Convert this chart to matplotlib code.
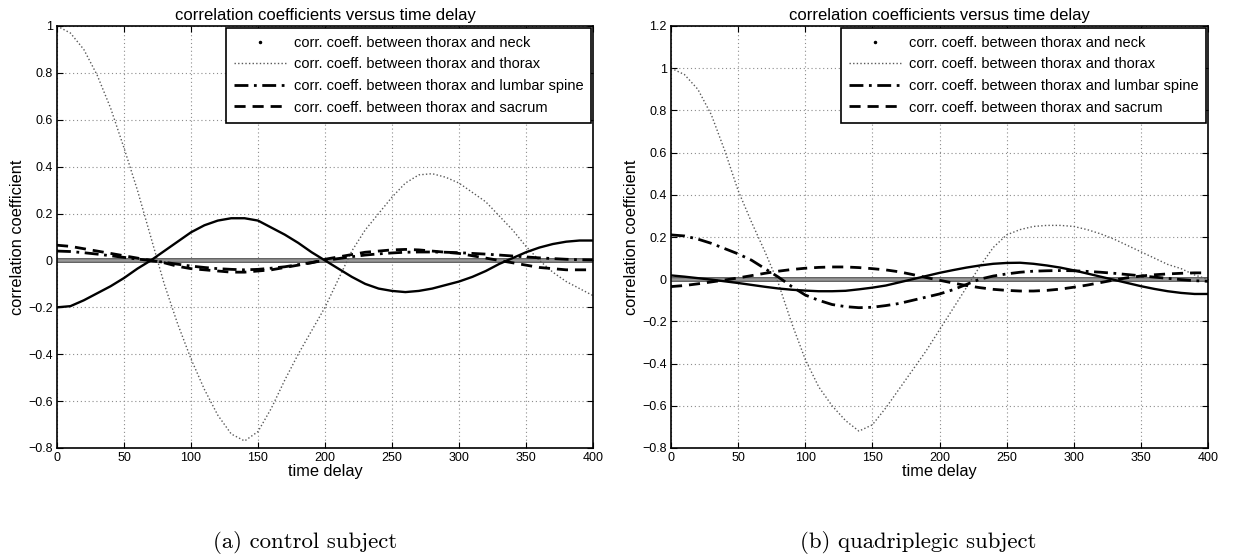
import matplotlib.pyplot as plt
import matplotlib.patheffects as pe
from matplotlib.lines import Line2D

# time delay samples (every 10 units)
delay = [0, 10, 20, 30, 40, 50, 60, 70, 80, 90, 100, 110, 120, 130, 140, 150,
         160, 170, 180, 190, 200, 210, 220, 230, 240, 250, 260, 270, 280, 290,
         300, 310, 320, 330, 340, 350, 360, 370, 380, 390, 400]

# (a) control subject
neck_delay = [0, 50, 100, 150, 200, 250, 300, 350, 400]
neck_a = [0.0, 0.0, 0.0, 0.0, 0.0, 0.0, 0.0, 0.0, 0.0]
thorax_a = [1.00, 0.97, 0.90, 0.79, 0.65, 0.48, 0.30, 0.10, -0.10, -0.27,
            -0.42, -0.55, -0.66, -0.74, -0.77, -0.73, -0.63, -0.51, -0.40, -0.30,
            -0.20, -0.08, 0.04, 0.13, 0.20, 0.27, 0.33, 0.365, 0.37, 0.355,
            0.33, 0.29, 0.25, 0.19, 0.13, 0.06, 0.0, -0.05, -0.09, -0.12, -0.15]
lumbar_a = [0.04, 0.038, 0.033, 0.027, 0.02, 0.013, 0.006, 0.0, -0.008, -0.016,
            -0.024, -0.03, -0.035, -0.038, -0.04, -0.038, -0.033, -0.027, -0.018, -0.009,
            0.0, 0.008, 0.016, 0.023, 0.028, 0.032, 0.035, 0.036, 0.036, 0.035,
            0.033, 0.03, 0.027, 0.023, 0.019, 0.015, 0.011, 0.008, 0.005, 0.003, 0.002]
sacrum_a = [0.065, 0.06, 0.05, 0.04, 0.03, 0.02, 0.01, 0.0, -0.01, -0.025,
            -0.035, -0.04, -0.045, -0.05, -0.05, -0.045, -0.04, -0.03, -0.02, -0.01,
            0.005, 0.015, 0.025, 0.035, 0.04, 0.045, 0.047, 0.045, 0.04, 0.035,
            0.03, 0.02, 0.01, 0.0, -0.01, -0.02, -0.03, -0.035, -0.04, -0.04, -0.04]
solid_a = [-0.20, -0.195, -0.17, -0.14, -0.11, -0.075, -0.035, 0.0, 0.04, 0.08,
           0.12, 0.15, 0.17, 0.18, 0.18, 0.17, 0.14, 0.11, 0.075, 0.035,
           0.0, -0.035, -0.07, -0.10, -0.12, -0.13, -0.135, -0.13, -0.12, -0.105,
           -0.09, -0.07, -0.045, -0.015, 0.01, 0.035, 0.055, 0.07, 0.08, 0.085, 0.085]

# (b) quadriplegic subject
neck_b = [0.0, 0.0, 0.0, 0.0, 0.0, 0.0, 0.0, 0.0, 0.0]
thorax_b = [1.00, 0.97, 0.90, 0.78, 0.61, 0.42, 0.27, 0.13, -0.02, -0.21,
            -0.38, -0.51, -0.60, -0.67, -0.72, -0.69, -0.61, -0.52, -0.43, -0.34,
            -0.24, -0.14, -0.04, 0.06, 0.15, 0.21, 0.235, 0.25, 0.255, 0.255,
            0.25, 0.235, 0.215, 0.19, 0.16, 0.13, 0.10, 0.07, 0.05, 0.02, 0.00]
lumbar_b = [0.21, 0.205, 0.19, 0.17, 0.145, 0.12, 0.09, 0.05, 0.01, -0.035,
            -0.075, -0.10, -0.12, -0.13, -0.135, -0.133, -0.125, -0.115, -0.10, -0.085,
            -0.07, -0.05, -0.025, 0.0, 0.015, 0.025, 0.033, 0.038, 0.04, 0.041,
            0.04, 0.037, 0.033, 0.028, 0.022, 0.016, 0.01, 0.004, -0.002, -0.007, -0.01]
sacrum_b = [-0.035, -0.03, -0.022, -0.013, -0.004, 0.006, 0.017, 0.028, 0.038, 0.046,
            0.052, 0.056, 0.058, 0.058, 0.055, 0.05, 0.044, 0.035, 0.022, 0.008,
            -0.005, -0.018, -0.03, -0.04, -0.048, -0.053, -0.056, -0.056, -0.053, -0.047,
            -0.038, -0.028, -0.016, -0.004, 0.007, 0.015, 0.021, 0.025, 0.028, 0.03, 0.03]
solid_b = [0.018, 0.012, 0.005, -0.002, -0.01, -0.018, -0.027, -0.036, -0.044, -0.05,
           -0.054, -0.057, -0.057, -0.055, -0.048, -0.04, -0.03, -0.015, 0.0, 0.015,
           0.03, 0.043, 0.055, 0.065, 0.073, 0.077, 0.078, 0.073, 0.065, 0.055,
           0.042, 0.027, 0.012, -0.003, -0.018, -0.033, -0.046, -0.057, -0.065, -0.07, -0.07]

legend_labels = ["corr. coeff. between thorax and neck",
                 "corr. coeff. between thorax and thorax",
                 "corr. coeff. between thorax and lumbar spine",
                 "corr. coeff. between thorax and sacrum"]

plt.rcParams['font.family'] = ['Liberation Sans', 'DejaVu Sans']

W, H = 1235, 556
fig = plt.figure(figsize=(W / 100, H / 100), dpi=100)

DOT = (0, (1, 1.6))
DASHDOT = (0, (5, 2, 1, 2))
DASH = (0, (4, 2.5))


def draw_panel(rect, neck, thorax, lumbar, sacrum, solid, ylim, yticks, caption, cap_x):
    ax = fig.add_axes([rect[0] / W, 1 - rect[3] / H, (rect[2] - rect[0]) / W, (rect[3] - rect[1]) / H])
    ax.plot(neck_delay, neck, color='0.6', lw=1.8,
            path_effects=[pe.Stroke(linewidth=3.4, foreground='0.3'), pe.Normal()])
    ax.plot(delay, thorax, color='0.35', lw=1.0, linestyle=DOT)
    ax.plot(delay, lumbar, color='black', lw=2, linestyle=DASHDOT)
    ax.plot(delay, sacrum, color='black', lw=2, linestyle=DASH)
    ax.plot(delay, solid, color='black', lw=1.7)

    ax.set_xlim(0, 400)
    ax.set_ylim(*ylim)
    ax.set_xticks(range(0, 401, 50))
    ax.set_yticks(yticks)
    ax.set_yticklabels([f"{t:g}" if t >= 0 else "\u2212" + f"{-t:g}" for t in yticks])
    ax.grid(True, color='0.55', linestyle=(0, (1, 2.5)), lw=0.8)
    ax.tick_params(direction='in', top=True, right=True, labelsize=9, length=4, pad=3)
    for s in ax.spines.values():
        s.set_linewidth(1.2)
    ax.set_title("correlation coefficients versus time delay", fontsize=12, pad=4)
    ax.set_xlabel("time delay", fontsize=11.8, labelpad=0)
    ax.set_ylabel("correlation coefficient", fontsize=11.8, labelpad=2)

    handles = [
        Line2D([], [], color='black', marker='.', markersize=3, linestyle='none'),
        Line2D([], [], color='0.35', lw=1.0, linestyle=DOT),
        Line2D([], [], color='black', lw=2, linestyle=DASHDOT),
        Line2D([], [], color='black', lw=2, linestyle=DASH),
    ]
    leg = ax.legend(handles, legend_labels, loc='upper right', fontsize=10.5,
                    fancybox=False, framealpha=1, edgecolor='black',
                    borderaxespad=0.12, handlelength=3.6, handletextpad=0.5,
                    labelspacing=0.52, borderpad=0.55)
    leg.get_frame().set_linewidth(1.2)

    fig.text(cap_x / W, 1 - 542 / H, caption, ha='center', va='center',
             fontsize=16.4, family='cmr10')
    return ax


draw_panel((57, 26, 593, 448), neck_a, thorax_a, lumbar_a, sacrum_a, solid_a,
           (-0.8, 1.0), [-0.8, -0.6, -0.4, -0.2, 0, 0.2, 0.4, 0.6, 0.8, 1],
           "(a) control subject", 305)
draw_panel((671, 26, 1208, 448), neck_b, thorax_b, lumbar_b, sacrum_b, solid_b,
           (-0.8, 1.2), [-0.8, -0.6, -0.4, -0.2, 0, 0.2, 0.4, 0.6, 0.8, 1, 1.2],
           "(b) quadriplegic subject", 918)

fig.savefig('out.png', dpi=100)
